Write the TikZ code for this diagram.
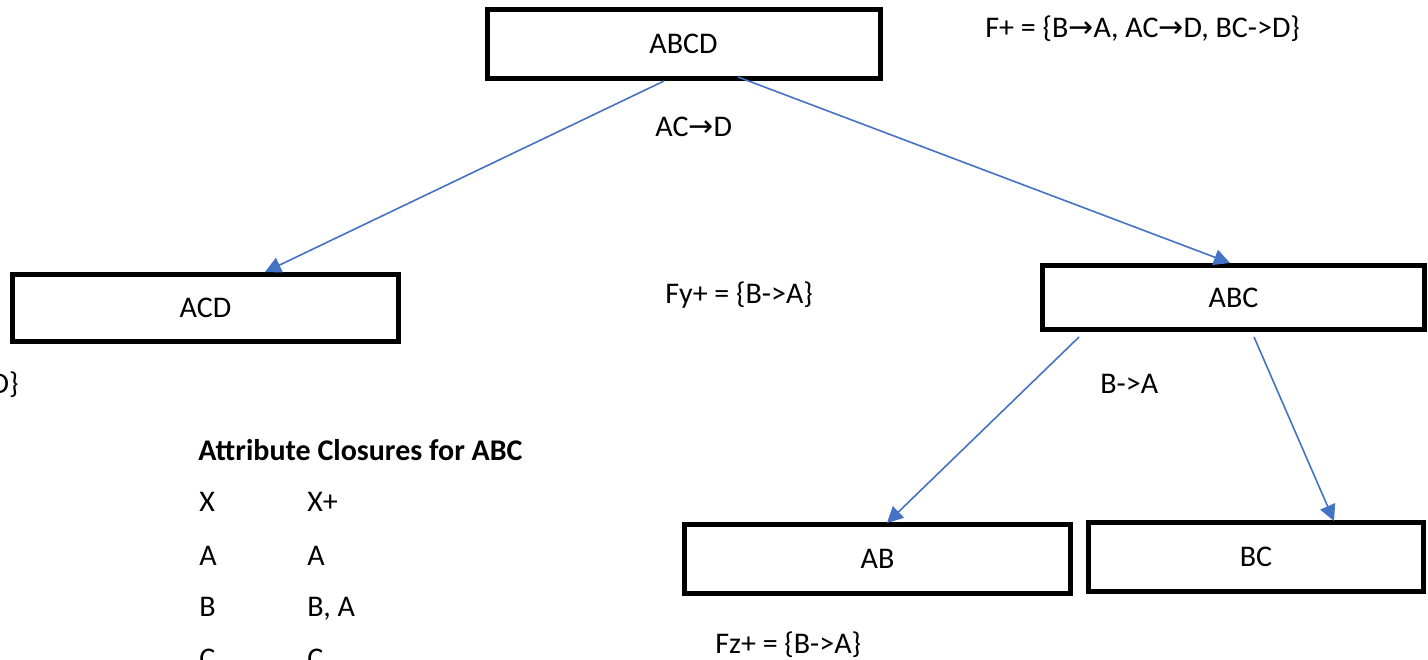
\documentclass[tikz,border=0pt]{standalone}
\usepackage{fontspec}
\setmainfont{Carlito}
\newfontfamily\arrowfont{DejaVu Sans}
\usetikzlibrary{arrows.meta,calc}
\newcommand{\ra}{{\arrowfont\symbol{"2192}}}
\definecolor{arrblue}{HTML}{4472C4}
\begin{document}
\begin{tikzpicture}[x=0.5pt,y=-0.5pt,
  every node/.style={font=\fontsize{15}{18}\selectfont},
  box/.style={draw=black,line width=2.5pt,fill=white,inner sep=0pt},
  txt/.style={inner sep=0pt,anchor=base west},
  arr/.style={draw=arrblue,line width=0.8pt,-{Triangle[length=8pt,width=8pt]}}]
\useasboundingbox (0,0) rectangle (1428,659);
\clip (0,0) rectangle (1428,659);
% boxes
\node[box,minimum width=196.5pt,minimum height=34.5pt] (abcd) at (683.5,44) {ABCD};
\node[box,minimum width=193pt,minimum height=33.5pt] (acd) at (205.5,308) {ACD};
\node[box,minimum width=191pt,minimum height=32pt] (abc) at (1233.5,297.5) {ABC};
\node[box,minimum width=193pt,minimum height=34.5pt] (ab) at (877.5,559) {AB};
\node[box,minimum width=167.5pt,minimum height=34.5pt] (bc) at (1256,557) {BC};
% connectors
\draw[arr] ($(abcd.south)+(-19.5,0)$) -- ($(acd.north)+(59.5,0)$);
\draw[arr] ($(abcd.south)+(54.5,-4)$) -- ($(abc.north)+(-3.5,0)$);
\draw[arr] ($(abc.south)+(-154.5,5)$) -- ($(ab.north)+(9.5,1)$);
\draw[arr] ($(abc.south)+(20.5,5)$) -- ($(bc.north)+(78,1)$);
% texts
\node[txt] (fplus) at (985,37) {F+ = \{B\ra A, AC\ra D, BC->D\}};
\node[txt] (acd-fd) at (655,136) {AC\ra D};
\node[txt] (fy) at (665,303) {Fy+ = \{B->A\}};
\node[txt,anchor=base east] (fx) at (19,393) {D\}};
\node[txt] (ba) at (1100,393) {B->A};
\node[txt,font=\fontsize{15}{18}\selectfont\bfseries] (title) at (198,460) {Attribute Closures for ABC};
\node[txt] (x1) at (199,511) {X};
\node[txt] (x2) at (307,511) {X+};
\node[txt] (a1) at (199,565) {A};
\node[txt] (a2) at (307,565) {A};
\node[txt] (b1) at (199,616) {B};
\node[txt] (b2) at (307,616) {B, A};
\node[txt] (c1) at (199,668) {C};
\node[txt] (c2) at (307,668) {C};
\node[txt] (fz) at (715,653) {Fz+ = \{B->A\}};
\end{tikzpicture}
\end{document}
